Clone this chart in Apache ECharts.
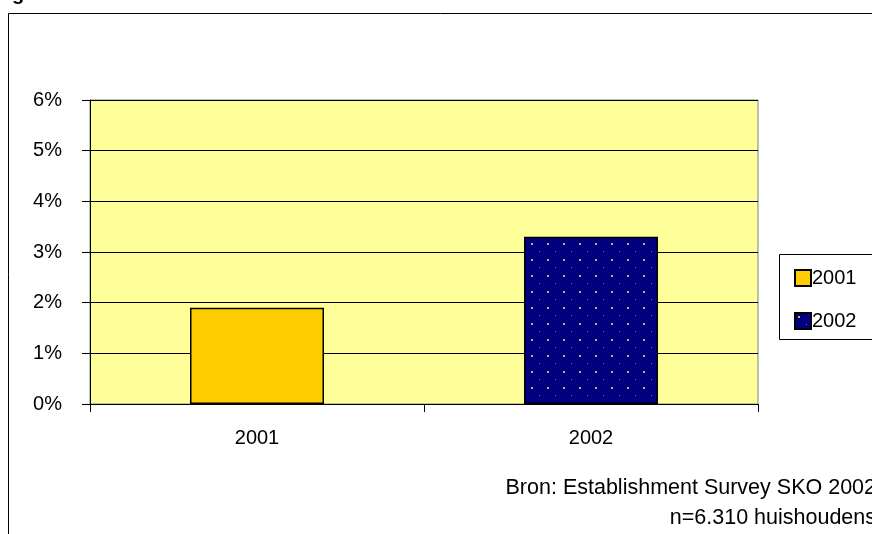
<!DOCTYPE html>
<html>
<head>
<meta charset="utf-8">
<script src="https://cdn.jsdelivr.net/npm/echarts@6/dist/echarts.min.js"></script>
<style>
html, body { margin: 0; padding: 0; background: #fff; }
#chart { width: 872px; height: 534px; }
</style>
</head>
<body>
<div id="chart"></div>
<script>
var categories = ['2001', '2002'];
var seriesNames = ['2001', '2002'];
var values2001 = [1.9, null];
var values2002 = [null, 3.3];
var yTicks = [0, 1, 2, 3, 4, 5, 6];
var sourceLines = ['Bron: Establishment Survey SKO 2002', 'n=6.310 huishoudens'];

// dotted navy fill for the 2002 bar
var patternCanvas = document.createElement('canvas');
patternCanvas.width = 16;
patternCanvas.height = 16;
var pctx = patternCanvas.getContext('2d');
pctx.fillStyle = '#000080';
pctx.fillRect(0, 0, 16, 16);
pctx.fillStyle = '#d8bc30';
pctx.fillRect(3, 3, 2, 2);
pctx.fillStyle = '#8a7a40';
pctx.fillRect(11, 11, 1, 1);

var font = '"Liberation Sans", Arial, sans-serif';
var myChart = echarts.init(document.getElementById('chart'));

var option = {
    backgroundColor: '#fff',
    animation: false,
    textStyle: { fontFamily: font },
    graphic: [
        {
            type: 'rect',
            shape: { x: 8.5, y: 13.5, width: 900, height: 600 },
            style: { fill: 'none', stroke: '#000', lineWidth: 1 }
        },
        {
            type: 'text',
            left: 12, top: -16,
            style: { text: 'g', font: 'bold 20px ' + font, fill: '#000' }
        },
        {
            type: 'rect',
            shape: { x: 779.5, y: 254.5, width: 200, height: 85 },
            style: { fill: '#fff', stroke: '#000', lineWidth: 1 }
        },
        {
            type: 'text',
            x: 876, y: 488,
            style: { text: sourceLines[0], font: '21.5px ' + font, fill: '#000', align: 'right', verticalAlign: 'middle' }
        },
        {
            type: 'text',
            x: 876, y: 518,
            style: { text: sourceLines[1], font: '21.5px ' + font, fill: '#000', align: 'right', verticalAlign: 'middle' }
        }
    ],
    legend: {
        orient: 'vertical',
        left: 789,
        top: 263,
        itemWidth: 16,
        itemHeight: 16,
        itemGap: 23,
        icon: 'rect',
        data: seriesNames,
        textStyle: { fontSize: 20, color: '#000', fontFamily: font, padding: [0, 0, 0, -4] }
    },
    grid: {
        left: 90,
        top: 100,
        width: 668,
        height: 304,
        show: true,
        backgroundColor: '#ffff99',
        borderColor: '#808080',
        borderWidth: 1,
        containLabel: false
    },
    xAxis: {
        type: 'category',
        data: categories,
        axisLine: { lineStyle: { color: '#000', width: 1 } },
        axisTick: { show: true, length: 8, interval: 0, lineStyle: { color: '#000' } },
        axisLabel: { fontSize: 20, color: '#000', margin: 24, fontFamily: font },
        splitLine: { show: false }
    },
    yAxis: {
        type: 'value',
        min: yTicks[0],
        max: yTicks[yTicks.length - 1],
        interval: 1,
        axisLine: { show: true, lineStyle: { color: '#000', width: 1 } },
        axisTick: { show: true, length: 8, lineStyle: { color: '#000' } },
        axisLabel: { fontSize: 20, color: '#000', margin: 28, formatter: '{value}%', fontFamily: font },
        splitLine: { show: true, lineStyle: { color: '#000', width: 1 } }
    },
    series: [
        {
            name: seriesNames[0],
            type: 'bar',
            stack: 'one',
            barWidth: 134,
            data: values2001,
            itemStyle: { color: '#ffcc00', borderColor: '#000', borderWidth: 1.5 }
        },
        {
            name: seriesNames[1],
            type: 'bar',
            stack: 'one',
            barWidth: 134,
            data: values2002,
            itemStyle: {
                color: { image: patternCanvas, repeat: 'repeat' },
                borderColor: '#000',
                borderWidth: 1.5
            }
        }
    ]
};
myChart.setOption(option);
</script>
</body>
</html>
